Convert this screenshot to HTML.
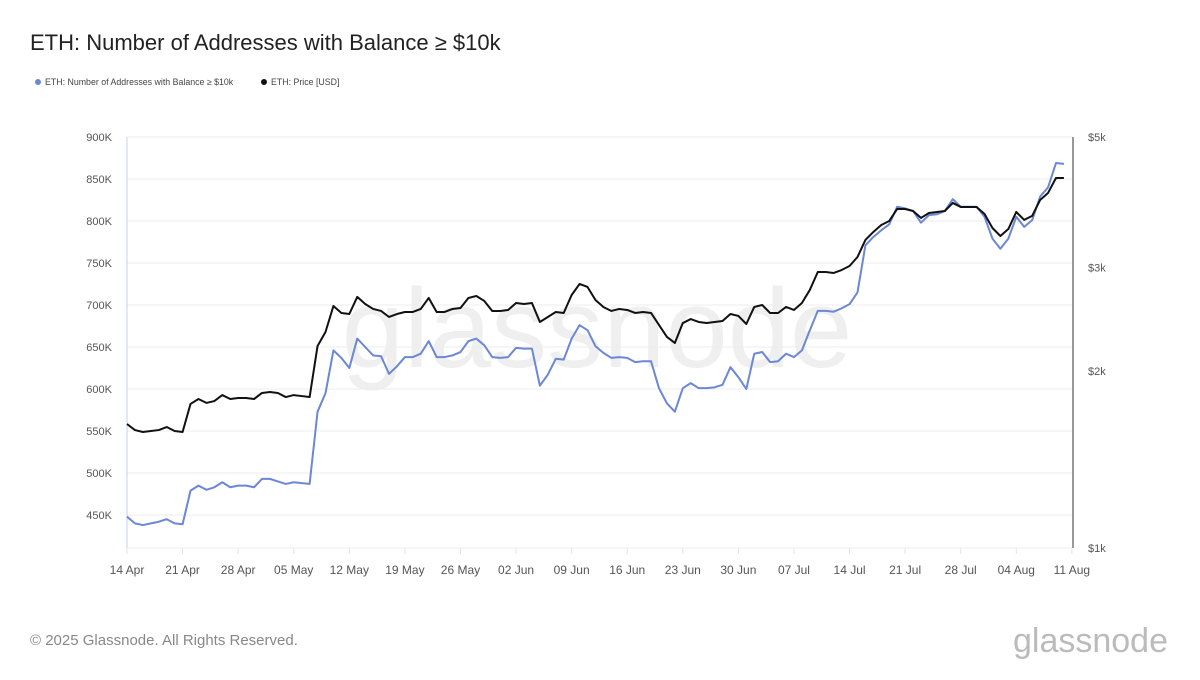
<!DOCTYPE html>
<html><head><meta charset="utf-8"><style>
body{margin:0;background:#fff;width:1200px;height:675px;overflow:hidden;font-family:"Liberation Sans",sans-serif}
</style></head><body>
<svg width="1200" height="675" xmlns="http://www.w3.org/2000/svg" id="svg">
<text x="30" y="50" font-size="22" fill="#222">ETH: Number of Addresses with Balance ≥ $10k</text>
<g font-size="8.8" fill="#444">
<circle cx="38" cy="82" r="3" fill="#6b87d6"/>
<text x="45" y="85">ETH: Number of Addresses with Balance ≥ $10k</text>
<circle cx="264" cy="82" r="3" fill="#111"/>
<text x="271" y="85">ETH: Price [USD]</text>
</g>
<text x="597" y="367" font-size="112" fill="#efefef" text-anchor="middle">glassnode</text>
<g id="grid"></g><g id="axes"></g><g id="series"></g>
<text x="30" y="645" font-size="15" fill="#888">© 2025 Glassnode. All Rights Reserved.</text>
<text x="1168" y="652" font-size="34" fill="#bbb" text-anchor="end">glassnode</text>
</svg>
<script>
const addresses=[448,440,438,440,442,445,440,439,479,485,480,483,489,483,485,485,483,493,493,490,487,489,488,487,573,595,646,637,625,660,650,640,639,618,627,638,638,642,657,638,638,640,644,657,660,652,638,637,638,649,648,648,604,617,636,635,660,676,670,651,643,637,638,637,632,633,633,601,583,573,601,607,601,601,602,605,626,614,600,642,644,632,633,642,638,646,670,693,693,692,696,701,715,771,781,789,796,817,815,812,798,807,808,812,826,817,817,817,805,779,767,779,805,793,801,829,840,869,868];
const price=[1625,1587,1575,1581,1587,1606,1581,1575,1758,1792,1765,1778,1820,1792,1799,1799,1792,1835,1842,1835,1806,1820,1813,1806,2206,2330,2580,2510,2500,2673,2600,2550,2530,2471,2500,2520,2520,2550,2662,2520,2520,2550,2560,2662,2683,2631,2530,2530,2540,2610,2600,2610,2423,2471,2520,2510,2693,2812,2779,2641,2570,2530,2550,2540,2510,2520,2510,2395,2285,2232,2413,2451,2423,2413,2423,2432,2500,2481,2404,2570,2590,2510,2510,2570,2540,2610,2747,2947,2947,2936,2970,3017,3125,3341,3447,3543,3599,3772,3772,3742,3642,3713,3728,3742,3862,3802,3802,3802,3698,3501,3393,3487,3728,3614,3671,3907,4016,4258,4258];
const xTickLabels=["14 Apr","21 Apr","28 Apr","05 May","12 May","19 May","26 May","02 Jun","09 Jun","16 Jun","23 Jun","30 Jun","07 Jul","14 Jul","21 Jul","28 Jul","04 Aug","11 Aug"];
const leftTicks=[450,500,550,600,650,700,750,800,850,900];
const rightTicks=[1000,2000,3000,5000];
const rightTickLabels=["$1k","$2k","$3k","$5k"];
const NS="http://www.w3.org/2000/svg";
const X0=127,DX=7.94,TOP=137,BOT=548;
const x=i=>X0+i*DX;
const yL=v=>137+(900-v)*42/50;
const yR=v=>BOT-(Math.log(v/1000)/Math.log(5))*(BOT-TOP);
function mk(tag,attrs,parent,txt){const e=document.createElementNS(NS,tag);for(const k in attrs)e.setAttribute(k,attrs[k]);if(txt!==undefined)e.textContent=txt;document.getElementById(parent).appendChild(e);return e;}
leftTicks.forEach(v=>{
 const g=mk('line',{x1:X0,x2:1073,y1:yL(v),y2:yL(v),stroke:'#eeeeee','stroke-width':1},'grid');
 
 
 const t=mk('text',{x:112,y:yL(v)+4,'font-size':11,fill:'#555','text-anchor':'end'},'axes',v+'K');
 
 
});
rightTicks.forEach((v,k)=>{
 const t=mk('text',{x:1088,y:yR(v)+4,'font-size':11,fill:'#555'},'axes',rightTickLabels[k]);
 
 
});
xTickLabels.forEach((s,k)=>{
 const xx=x(k*7);
 const tk=mk('line',{x1:xx,x2:xx,y1:BOT,y2:BOT+6,stroke:'#e3e3e3'},'axes');
 
 
 const t=mk('text',{x:xx,y:574,'font-size':12,fill:'#555','text-anchor':'middle'},'axes',s);
 
 
});
const ax=mk('line',{x1:X0,x2:X0,y1:TOP,y2:BOT,stroke:'#c5d0ee','stroke-width':1},'axes');


const bx=mk('line',{x1:X0,x2:1073,y1:BOT,y2:BOT,stroke:'#eeeeee'},'axes');


const ar=mk('line',{x1:1073,x2:1073,y1:TOP,y2:BOT,stroke:'#999','stroke-width':2},'axes');


const pb=mk('polyline',{points:addresses.map((v,i)=>x(i)+','+yL(v)).join(' '),fill:'none',stroke:'#6b87d6','stroke-width':2,'stroke-linejoin':'round'},'series');


const pk=mk('polyline',{points:price.map((v,i)=>x(i)+','+yR(v)).join(' '),fill:'none',stroke:'#111','stroke-width':2,'stroke-linejoin':'round'},'series');


</script>
</body></html>
